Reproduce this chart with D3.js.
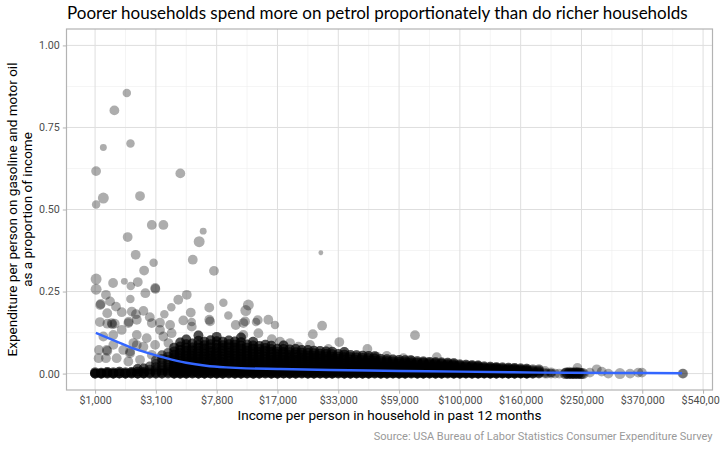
<!DOCTYPE html>
<html><head><meta charset="utf-8">
<script src="https://cdn.jsdelivr.net/npm/d3@7"></script>
<style>body{margin:0;background:#fff}svg{display:block}</style>
</head><body>
<svg id="chart" width="720" height="450"></svg>
<script>
// ---------- data ----------
const titleText = "Poorer households spend more on petrol proportionately than do richer households";
const xTitle = "Income per person in household in past 12 months";
const yTitleLines = ["Expenditure per person on gasoline and motor oil", "as a proportion of income"];
const captionText = "Source: USA Bureau of Labor Statistics Consumer Expenditure Survey";

const xTickValues = [1024, 3125, 7776, 16807, 32768, 59049, 100000, 161051, 248832, 371293, 537824];
const xTickLabels = ["$1,000","$3,100","$7,800","$17,000","$33,000","$59,000","$100,000","$160,000","$250,000","$370,000","$540,000"];
const yTickValues = [0, 0.25, 0.5, 0.75, 1];
const yTickLabels = ["0.00","0.25","0.50","0.75","1.00"];

// scattered households (income per person, petrol share, household members)
const outIncome = [1890,1500,1210,2020,1045,4600,1210,1046,2390,2920,3530,6440,1920,6080,2215,3010,5540,2565,7490,27300,
  1046,1463,1808,2030,2298,1046,2620,3100,3090,1274,1135,1150,1380,2017,5070,4458,4003,7017,8515,11790,
  11415,5380,1547,1722,1307,2225,2535,2825,3585,9100,13260,15070,16320,11310,12975,10030,5458,7094,25040,27670,
  33130,29560,1129,1310,1511,1108,1310,1100,2006,2259,2068,1427,1440,1943,1960,2259,2920,3341,3927,4813,
  5458,7017,11064,1211,1470,1295,1274,1567,1771,2006,1470,1722,2259,2127,2681,2535,1943,2391,2920,3085,
  3528,3341,4021,3824,13360,11064,15710,19440,21360,24300,43820,52710,61390,47940,17320,68150,82380,65200,
  195400,201100,207000,213000,222060,226800,231600,236600,241500,246800,251960,224000,234000,244000,242000,
  263500,276000,285300,298100,321700,343500,361900,370500,476000,478000,
  223000,228000,233000,238000,243000,248000,250000,225000,230000,235000,240000,245000,229000,239000];
const outShare = [.855,.802,.689,.701,.617,.610,.535,.515,.541,.453,.453,.434,.416,.402,.362,.338,.347,.314,.313,.368,
  .288,.276,.281,.267,.279,.257,.245,.258,.261,.240,.209,.212,.220,.227,.240,.225,.202,.201,.216,.209,
  .192,.186,.204,.187,.184,.181,.191,.172,.181,.177,.163,.164,.148,.159,.157,.148,.157,.159,.120,.146,
  .096,.077,.157,.152,.152,.072,.069,.047,.067,.087,.189,.154,.150,.154,.158,.164,.154,.155,.148,.162,
  .143,.164,.154,.113,.0875,.072,.047,.047,.072,.062,.118,.133,.118,.093,.108,.082,.037,.042,.057,.0875,
  .113,.133,.123,.093,.123,.118,.105,.093,.082,.0875,.075,.054,.047,.052,.0975,.117,.050,.042,
  0,.002,0,0,0,0,0,0,0,0,0,.003,.002,.003,.017,
  .003,.013,.006,0,0,0,.003,.003,0,0,
  0,0,0,0,0,0,0,.002,.002,.002,.002,.002,.004,.004];
const outMembers = [3,4,2,3,4,4,5,3,4,4,4,2,4,5,4,3,4,4,4,1,
  5,4,2,3,4,5,4,4,4,4,4,4,4,3,4,4,3,4,3,5,
  5,4,4,4,4,4,4,4,3,3,4,4,3,4,3,4,3,4,4,4,
  4,3,4,4,4,4,4,4,4,4,4,4,4,4,4,4,4,4,4,4,
  4,4,4,4,4,4,4,4,4,4,4,4,4,4,4,4,4,4,4,4,
  4,4,4,4,4,4,4,4,4,4,4,4,4,4,4,4,4,4,
  4,3,4,4,5,5,5,5,5,5,5,5,5,5,4,
  4,4,4,4,5,4,4,4,4,4,
  5,5,5,5,5,5,5,5,5,5,5,5,5,5];

// dense core of households: income columns, the petrol shares observed at each,
// and how many households sit at each listed share
const coreIncome = [1024,1159,1307,1470,1649,1845,2060,2293,2548,2825,3125,3450,3802,4182,4592,5033,5507,6017,6564,7149,
  7776,8446,9161,9924,10737,11603,12523,13501,14539,15640,16807,18042,19349,20731,22190,23730,25355,27068,28872,30771,
  32768,34868,37074,39390,41821,44371,47043,49842,52773,55841,59049,62403,65908,69569,73390,77378,81537,85873,90392,95099,
  100000,105101,110408,115927,121665,127628,133823,140255,146932,153862,161051,168506,176234,184244,192541,201136];
const coreShares = [
  [0,0,.004],[0,0,.003],[0,.002,.005],[0,0,.004],[0,.001,.006],[0,0,.004],[0,.002,.005],[0,0,.006,.014],[0,.001,.005,.016],
  [0,0,.004,.012,.022],
  [0,0,.004,.012,.02,.03,.041],
  [0,0,.004,.01,.018,.026,.035,.045,.056],
  [0,.002,.005,.011,.017,.025,.033,.042,.052,.063],
  [0,0,.004,.01,.017,.024,.032,.04,.049,.058,.068,.079],
  [0,0,.004,.01,.016,.023,.03,.038,.046,.054,.063,.072,.083,.095],
  [0,0,.004,.009,.016,.022,.03,.037,.045,.053,.061,.07,.079,.09,.104],
  [0,.002,.005,.011,.017,.024,.031,.038,.046,.054,.062,.071,.08,.092],
  [0,0,.004,.01,.016,.023,.03,.037,.044,.052,.06,.069,.078,.088,.1,.116],
  [0,0,.003,.009,.015,.022,.029,.036,.044,.052,.06,.068,.077,.087,.097],
  [0,.001,.005,.01,.017,.024,.031,.038,.046,.054,.062,.07,.08,.09,.102],
  [0,0,.004,.01,.016,.023,.03,.037,.045,.053,.061,.069,.078,.088,.099,.112],
  [0,0,.004,.009,.015,.022,.029,.036,.044,.052,.06,.069,.078,.087,.097],
  [0,.002,.005,.011,.017,.024,.031,.039,.047,.055,.063,.071,.08,.09,.101],
  [0,0,.004,.01,.016,.023,.03,.037,.045,.053,.061,.07,.079,.088,.098],
  [0,0,.004,.009,.015,.022,.029,.036,.044,.052,.06,.068,.077,.086,.096,.11],
  [0,.001,.005,.01,.016,.023,.03,.037,.045,.053,.061,.07,.079,.089],
  [0,0,.004,.01,.016,.022,.029,.036,.043,.051,.059,.067,.076,.086,.097],
  [0,0,.004,.009,.015,.021,.028,.035,.042,.05,.058,.066,.075,.084],
  [0,.002,.005,.01,.016,.022,.029,.036,.044,.052,.06,.069,.078,.088],
  [0,0,.004,.009,.015,.021,.028,.035,.042,.05,.058,.066,.075,.085],
  [0,0,.004,.01,.016,.022,.029,.036,.043,.051,.059,.067,.076],
  [0,.001,.005,.01,.016,.022,.028,.035,.042,.05,.058,.066,.075,.086],
  [0,0,.004,.009,.015,.021,.027,.034,.041,.049,.057,.065,.074],
  [0,0,.004,.009,.015,.021,.028,.035,.042,.049,.057,.065,.075],
  [0,.002,.005,.01,.015,.021,.027,.034,.041,.048,.056,.064,.072],
  [0,0,.004,.009,.014,.02,.026,.033,.04,.047,.055,.063,.072],
  [0,0,.004,.009,.014,.02,.026,.033,.04,.047,.054,.062,.07],
  [0,.001,.005,.009,.014,.02,.026,.032,.039,.046,.053,.061,.069],
  [0,0,.004,.008,.013,.019,.025,.031,.038,.045,.052,.06,.068],
  [0,0,.004,.009,.014,.019,.025,.031,.038,.045,.052,.059,.067],
  [0,.002,.005,.009,.014,.02,.026,.032,.038,.045,.052,.06],
  [0,0,.004,.008,.013,.018,.024,.03,.036,.043,.05,.058,.066],
  [0,0,.004,.008,.013,.018,.024,.03,.036,.043,.05,.057],
  [0,.001,.004,.008,.012,.017,.023,.029,.035,.042,.049,.056],
  [0,0,.004,.008,.012,.017,.022,.028,.034,.041,.048,.055],
  [0,0,.003,.007,.012,.017,.022,.028,.034,.04,.047,.054],
  [0,.002,.005,.008,.012,.017,.022,.027,.033,.039,.046,.053],
  [0,0,.003,.007,.011,.016,.021,.026,.032,.038,.045],
  [0,0,.004,.007,.011,.016,.021,.026,.032,.038,.044],
  [0,.001,.004,.008,.012,.016,.021,.026,.031,.037,.043],
  [0,0,.003,.007,.011,.015,.02,.025,.03,.036,.042],
  [0,0,.003,.007,.011,.015,.02,.025,.03,.035,.041],
  [0,.002,.004,.007,.011,.015,.019,.024,.029,.034,.04],
  [0,0,.003,.006,.01,.014,.018,.023,.028,.033,.038],
  [0,0,.003,.006,.01,.014,.018,.023,.028,.033,.037],
  [0,.001,.004,.007,.01,.014,.018,.022,.027,.032,.036],
  [0,0,.003,.006,.009,.013,.017,.021,.026,.031,.035],
  [0,0,.003,.006,.009,.013,.017,.021,.025,.03,.034],
  [0,.002,.004,.007,.01,.013,.017,.021,.025,.029,.033],
  [0,0,.003,.006,.009,.012,.016,.02,.024,.028,.032],
  [0,0,.003,.006,.009,.012,.016,.02,.024,.028],
  [0,.001,.003,.006,.009,.012,.015,.019,.023,.027],
  [0,0,.003,.005,.008,.011,.015,.019,.023,.026],
  [0,0,.002,.005,.008,.011,.014,.018,.022,.025],
  [0,.001,.003,.006,.009,.012,.015,.018,.022],
  [0,0,.002,.005,.008,.011,.014,.017,.021],
  [0,0,.003,.005,.008,.011,.014,.017,.02],
  [0,.001,.003,.006,.009,.012,.015,.019],
  [0,0,.002,.005,.008,.011,.014,.018],
  [0,0,.003,.005,.008,.011,.014,.017],
  [0,.001,.003,.006,.009,.012,.016],
  [0,0,.002,.005,.008,.011,.015],
  [0,0,.003,.006,.009,.013],
  [0,.002,.005,.009,.013],
  [0,.003,.008],
  [0,.004]
];
const coreHouseholds = [3,3,3,3,3,3,3,3,3,2,2,2,2,3,3,3,3,3,3,3,
  3,3,3,3,3,3,3,3,3,3,3,3,3,3,3,3,3,3,3,3,
  3,3,3,3,3,3,3,3,3,3,3,3,3,3,3,3,3,3,3,3,
  3,3,3,3,3,3,3,3,3,3,3,3,2,2,1,1];
const coreMembers = 4;

// smoothed trend (loess)
const trendIncome = [1040,1520,2116,2839,3687,5019,6712,8833,11461,17292,30097,59575,100000,185850,321950,474740];
const trendShare  = [.124,.1,.077,.061,.047,.033,.024,.019,.016,.014,.011,.008,.006,.003,.002,.001];

// ---------- chart ----------
const svg = d3.select("#chart");
const P = {l: 66.5, r: 712.5, t: 29, b: 390};

const x = d3.scalePow().exponent(0.2).domain([548, 568260]).range([P.l, P.r]);
const y = d3.scaleLinear().domain([-0.05, 1.05]).range([P.b, P.t]);
const r = d3.scaleSqrt().domain([0, 6]).range([0, 6]);

// gridlines
const g = svg.append("g");
const xMinor = d3.pairs(xTickValues).map(([a, b]) => x.invert((x(a) + x(b)) / 2));
const yMinor = d3.pairs(yTickValues).map(([a, b]) => (a + b) / 2);
g.selectAll(".xm").data(xMinor).join("line")
  .attr("x1", d => x(d)).attr("x2", d => x(d)).attr("y1", P.t).attr("y2", P.b)
  .attr("stroke", "#ececec").attr("stroke-width", 0.6);
g.selectAll(".ym").data(yMinor).join("line")
  .attr("y1", d => y(d)).attr("y2", d => y(d)).attr("x1", P.l).attr("x2", P.r)
  .attr("stroke", "#ececec").attr("stroke-width", 0.6);
g.selectAll(".xM").data(xTickValues).join("line")
  .attr("x1", d => x(d)).attr("x2", d => x(d)).attr("y1", P.t).attr("y2", P.b)
  .attr("stroke", "#dedede").attr("stroke-width", 1);
g.selectAll(".yM").data(yTickValues).join("line")
  .attr("y1", d => y(d)).attr("y2", d => y(d)).attr("x1", P.l).attr("x2", P.r)
  .attr("stroke", "#dedede").attr("stroke-width", 1);

// points
const pts = [];
coreIncome.forEach((inc, i) => coreShares[i].forEach(s => {
  for (let k = 0; k < coreHouseholds[i]; k++) pts.push({inc, s, m: coreMembers});
}));
outIncome.forEach((inc, i) => pts.push({inc, s: outShare[i], m: outMembers[i]}));

svg.append("defs").append("clipPath").attr("id", "clip")
  .append("rect").attr("x", P.l).attr("y", P.t).attr("width", P.r - P.l).attr("height", P.b - P.t);

svg.append("g").attr("clip-path", "url(#clip)")
  .selectAll("circle").data(pts).join("circle")
  .attr("cx", d => x(d.inc)).attr("cy", d => y(d.s)).attr("r", d => r(d.m))
  .attr("fill", "#000").attr("fill-opacity", 0.32);

// trend line
const trend = trendIncome.map((inc, i) => [inc, trendShare[i]]);
svg.append("path").datum(trend)
  .attr("d", d3.line().x(d => x(d[0])).y(d => y(d[1])).curve(d3.curveCatmullRom))
  .attr("fill", "none").attr("stroke", "#3366FF").attr("stroke-width", 2.4);

// panel border
svg.append("rect").attr("x", P.l).attr("y", P.t).attr("width", P.r - P.l).attr("height", P.b - P.t)
  .attr("fill", "none").attr("stroke", "#b3b3b3").attr("stroke-width", 1.2);

// axes
const xAxis = svg.append("g").attr("transform", `translate(0,${P.b})`)
  .call(d3.axisBottom(x).tickValues(xTickValues).tickFormat((d, i) => xTickLabels[i]).tickSize(3.7).tickPadding(3));
const yAxis = svg.append("g").attr("transform", `translate(${P.l},0)`)
  .call(d3.axisLeft(y).tickValues(yTickValues).tickFormat((d, i) => yTickLabels[i]).tickSize(3.7).tickPadding(3));
[xAxis, yAxis].forEach(a => {
  a.select(".domain").remove();
  a.selectAll(".tick line").attr("stroke", "#b3b3b3");
  a.selectAll(".tick text").attr("fill", "#4d4d4d").attr("font-family", "Roboto").attr("font-size", "10.7px");
});

// titles
svg.append("text").attr("x", 67).attr("y", 19).text(titleText)
  .attr("font-family", "Lato").attr("font-size", "17px").attr("fill", "#000");
svg.append("text").attr("x", (P.l + P.r) / 2).attr("y", 420).attr("text-anchor", "middle").text(xTitle)
  .attr("font-family", "Roboto").attr("font-size", "13.5px").attr("fill", "#000");
const yt = svg.append("text").attr("transform", `translate(0,${(P.t + P.b) / 2}) rotate(-90)`)
  .attr("text-anchor", "middle").attr("font-family", "Roboto").attr("font-size", "13.5px").attr("fill", "#000");
yTitleLines.forEach((t, i) => yt.append("tspan").attr("x", 0).attr("y", 17 + i * 15).text(t));
svg.append("text").attr("x", P.r).attr("y", 440).attr("text-anchor", "end").text(captionText)
  .attr("font-family", "Roboto").attr("font-size", "11px").attr("fill", "#999");
</script>
</body></html>
